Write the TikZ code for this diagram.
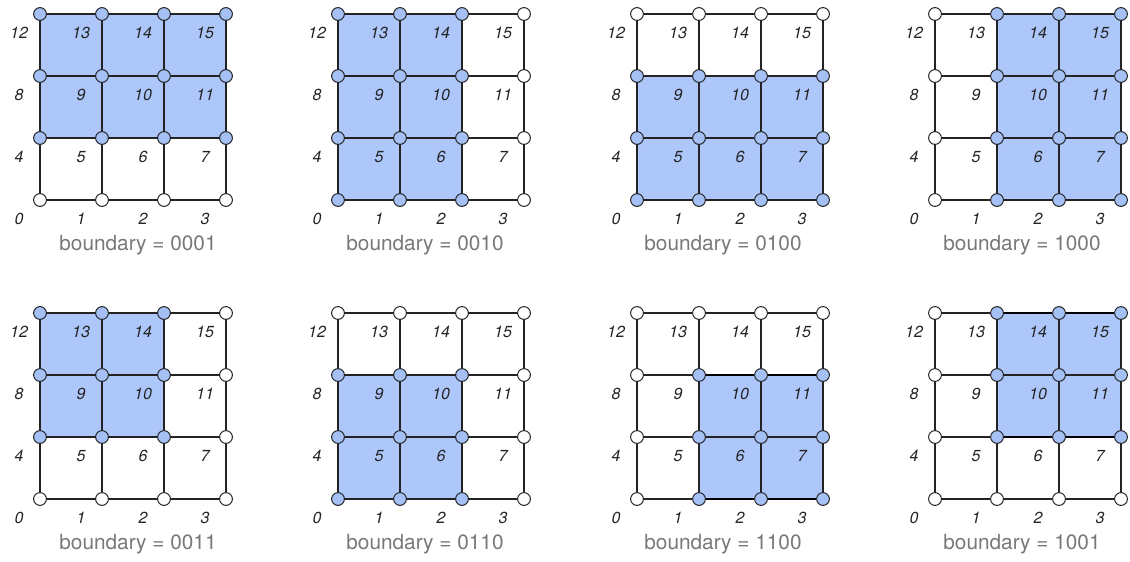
\documentclass[tikz,border=0pt]{standalone}
\usepackage{fontspec}
\setmainfont{TeX Gyre Heros}
\usetikzlibrary{backgrounds}
\definecolor{cellblue}{RGB}{173,199,250}
\definecolor{dotblue}{RGB}{164,192,244}
\definecolor{edgegray}{RGB}{35,35,35}
\definecolor{capgray}{RGB}{120,120,120}
\tikzset{
  vert/.style={circle, draw=edgegray, line width=0.75pt, minimum size=9.6pt, inner sep=0pt},
  gridline/.style={draw=edgegray, line width=1.05pt},
  thickedge/.style={draw=black, line width=2.2pt},
  lab/.style={font=\fontsize{12}{13}\selectfont\itshape, text=edgegray, inner sep=0pt},
  captext/.style={font=\fontsize{15.6}{18}\selectfont, text=capgray, inner sep=0pt}
}
% #1 prefix, #2 x0, #3 y0, #4 imin, #5 imax, #6 jmin, #7 jmax, #8 caption, #9 caption x
\newcommand\gridpanel[9]{%
  \foreach \i in {0,...,3}{%
    \foreach \j in {0,...,3}{%
      \pgfmathtruncatemacro\inside{(\i>=#4)&&(\i<=#5)&&(\j>=#6)&&(\j<=#7)}%
      \ifnum\inside=1 \def\vcol{dotblue}\else\def\vcol{white}\fi
      \node[vert, fill=\vcol] (#1-\i-\j) at ({#2+62*\i},{#3+62*(3-\j)}) {};
      \pgfmathtruncatemacro\lab{4*\j+\i}%
      \node[lab] (#1-l\lab) at ({#2+62*\i-21},{#3+62*(3-\j)+19}) {\lab};
    }%
  }%
  \begin{scope}[on background layer]
    \fill[cellblue] (#1-#4-#6.center) rectangle (#1-#5-#7.center);
  \end{scope}
  \foreach \i [evaluate=\i as \k using int(\i+1)] in {0,1,2}{%
    \foreach \j in {0,...,3}{%
      \draw[gridline] (#1-\i-\j) -- (#1-\k-\j);
      \draw[gridline] (#1-\j-\i) -- (#1-\j-\k);
    }%
  }%
  \node[captext] (#1-cap) at (#9,{#3+231}) {boundary = #8};
}
\begin{document}
\begin{tikzpicture}[x=0.75pt, y=-0.75pt]
\useasboundingbox (0,0) rectangle (1130,561);
\gridpanel{pa}{40}{14}{0}{3}{1}{3}{0001}{138}
\gridpanel{pb}{338}{14}{0}{2}{0}{3}{0010}{425}
\gridpanel{pc}{637}{14}{0}{3}{0}{2}{0100}{723}
\gridpanel{pd}{935}{14}{1}{3}{0}{3}{1000}{1022}
\gridpanel{pe}{40}{313}{0}{2}{1}{3}{0011}{138}
\gridpanel{pf}{338}{313}{0}{2}{0}{2}{0110}{425}
\gridpanel{pg}{637}{313}{1}{3}{0}{2}{1100}{723}
\gridpanel{ph}{935}{313}{1}{3}{1}{3}{1001}{1022}
\draw[thickedge] (pg-1-2) -- (pg-2-2) -- (pg-3-2);
\draw[thickedge] (pg-1-0) -- (pg-2-0) -- (pg-3-0);
\draw[thickedge] (ph-1-3) -- (ph-2-3) -- (ph-3-3);
\draw[thickedge] (ph-1-1) -- (ph-2-1) -- (ph-3-1);
\end{tikzpicture}
\end{document}
